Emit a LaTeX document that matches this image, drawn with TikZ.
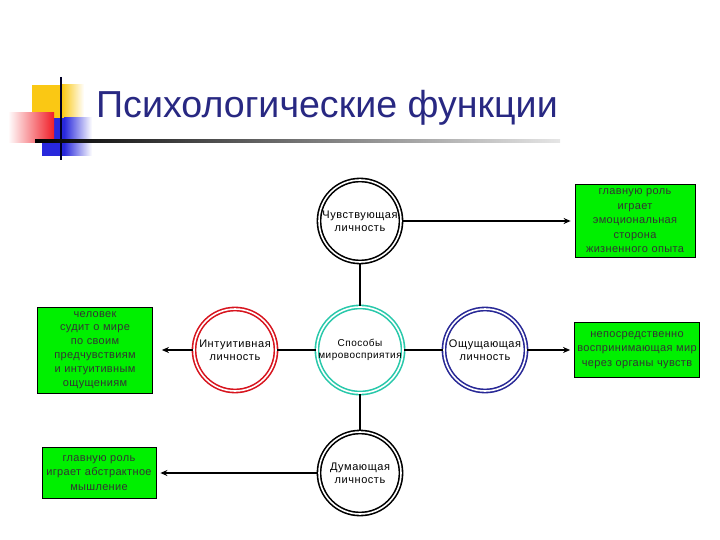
\documentclass[tikz,border=0pt]{standalone}
\usepackage{fontspec}
\setmainfont{Liberation Sans}
\newfontfamily\spacedfont[LetterSpace=5]{Liberation Sans}
\newfontfamily\notefont[LetterSpace=3]{Liberation Sans}
\usepackage{xcolor}
\usetikzlibrary{arrows.meta,positioning}

\definecolor{titleblue}{RGB}{40,40,130}
\definecolor{notegreen}{RGB}{0,240,0}
\definecolor{ringred}{RGB}{215,20,30}
\definecolor{ringteal}{RGB}{40,200,170}
\definecolor{ringblue}{RGB}{40,40,150}
\definecolor{decoyellow}{RGB}{250,200,20}
\definecolor{decored}{RGB}{240,30,40}
\definecolor{decoblue}{RGB}{40,40,220}

\begin{document}
\begin{tikzpicture}[x=1pt,y=-1pt,
    ring/.style={circle, draw=#1, double=white, line width=1.6pt, double distance=1.6pt,
                 minimum size=82pt, inner sep=0pt, align=center,
                 font=\spacedfont\fontsize{11}{13}\selectfont},
    note/.style={draw=black, line width=0.8pt, fill=notegreen, align=center,
                 inner xsep=0.5pt, inner ysep=1pt,
                 text=black!80, font=\notefont\fontsize{11}{14.5}\selectfont},
    link/.style={black, line width=2pt},
    arr/.style={-{Stealth[length=7pt,width=6pt]}, black}
]
        \useasboundingbox (0,0) rectangle (720,540);

        % Corner decoration
        \fill[decoyellow] (32,85) rectangle (62,120);
        \shade[left color=decoyellow, right color=white] (62,85) rectangle (84,120);
        \fill[decoblue] (42,118) rectangle (64,156);
        \shade[left color=decoblue, right color=white] (64,118) rectangle (92,156);
        \shade[left color=white, right color=decored] (8,113) rectangle (54,143);
        \draw[black!85!blue, line width=2.5pt] (61,77) -- (61,160);
        \shade[left color=black, right color=black!10] (35,139.8) rectangle (560,142.3);

        % Title
        \node[anchor=base west, inner sep=0pt, text=titleblue,
              font=\fontsize{37.6}{40}\selectfont] (title) at (96,118) {Психологические функции};

        % Circles
        \node[ring=ringteal, font=\spacedfont\fontsize{10}{12}\selectfont] (core) at (360,350) {Способы\\мировосприятия};
        \node[ring=black] (feel) at (360,221) {Чувствующая\\личность};
        \node[ring=black] (think) at (360,473) {Думающая\\личность};
        \node[ring=ringred] (intu) at (235,350) {Интуитивная\\личность};
        \node[ring=ringblue] (sense) at (485,350) {Ощущающая\\личность};

        % Links between circles
        \draw[link] (feel) -- (core);
        \draw[link] (core) -- (think);
        \draw[link] (intu) -- (core);
        \draw[link] (core) -- (sense);

        % Notes
        \node[note, text width=119pt, minimum height=73pt] (feelbox) at (635,221)
            {главную роль\\играет\\эмоциональная\\сторона\\жизненного опыта};
        \node[note, text width=124pt, minimum height=55pt] (sensebox) at (637,350)
            {непосредственно\\воспринимающая мир\\через органы чувств};
        \node[note, text width=114pt, minimum height=86pt,
              font=\notefont\fontsize{11}{13.9}\selectfont] (intubox) at (95,350)
            {человек\\судит о мире\\по своим\\предчувствиям\\и интуитивным\\ощущениям};
        \node[note, text width=113pt, minimum height=51pt] (thinkbox) at (99,473)
            {главную роль\\играет абстрактное\\мышление};

        % Arrows to notes
        \draw[arr, line width=2pt, shorten >=4pt] (feel) -- (feelbox);
        \draw[arr, line width=1.3pt, shorten >=4pt] (sense) -- (sensebox);
        \draw[arr, line width=1.3pt, shorten >=9pt] (intu) -- (intubox);
        \draw[arr, line width=2pt, shorten >=4pt] (think) -- (thinkbox);
    \end{tikzpicture}
\end{document}
